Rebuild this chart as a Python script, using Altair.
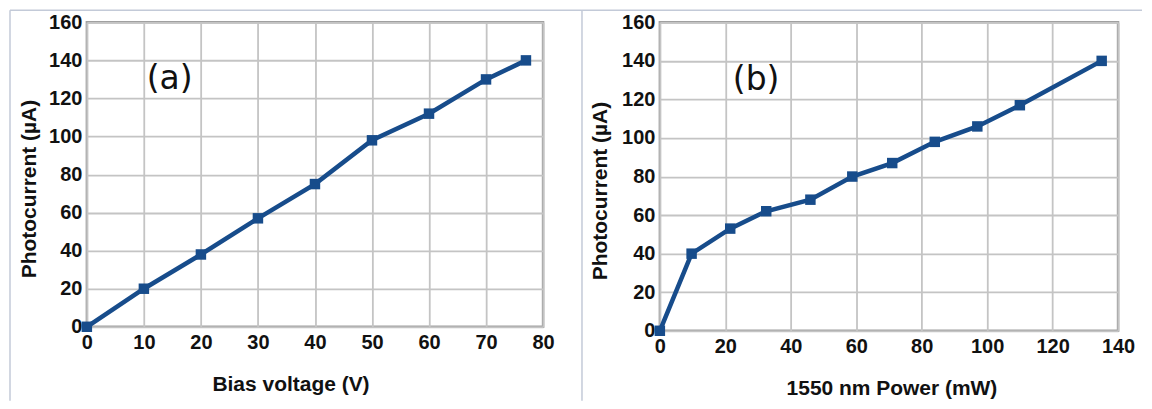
import altair as alt
import pandas as pd

# Panel (a): photocurrent vs bias voltage
volt_x = [0, 10, 20, 30, 40, 50, 60, 70, 77]
volt_y = [0, 20, 38, 57, 75, 98, 112, 130, 140]
# Panel (b): photocurrent vs 1550 nm power
pow_x = [0, 9.7, 21.5, 32.5, 46, 58.8, 71, 84, 97, 110, 135]
pow_y = [0, 40, 53, 62, 68, 80, 87, 98, 106, 117, 140]

y_ticks = [0, 20, 40, 60, 80, 100, 120, 140, 160]
a_ticks = [0, 10, 20, 30, 40, 50, 60, 70, 80]
b_ticks = [0, 20, 40, 60, 80, 100, 120, 140]

LINE = "#174c8b"
FONT = "Liberation Sans"
FRAME = "#c3cad8"

df_a = pd.DataFrame({"x": volt_x, "y": volt_y})
df_b = pd.DataFrame({"x": pow_x, "y": pow_y})


def panel(df, xmax, xticks, xtitle, label, label_x, w, h, xtitle_x, ytitle_x,
          left_rule, right_end):
    x = alt.X("x:Q", scale=alt.Scale(domain=[0, xmax], nice=False),
              axis=alt.Axis(values=xticks, title=xtitle, labelPadding=6,
                            format="d", labelOverlap=False, labelFlush=False,
                            titleX=xtitle_x, titleY=58, titleBaseline="middle",
                            titleAlign="center"))
    y = alt.Y("y:Q", scale=alt.Scale(domain=[0, 160], nice=False),
              axis=alt.Axis(values=y_ticks, title="Photocurrent (µA)",
                            labelPadding=5, format="d", labelOverlap=False,
                            labelFlush=False,
                            titleX=ytitle_x, titleY=h / 2 + 14,
                            titleBaseline="middle", titleAlign="center"))
    base = alt.Chart(df)
    line = base.mark_line(color=LINE, strokeWidth=4.5).encode(x=x, y=y)
    pts = base.mark_point(shape="square", filled=True, opacity=1, color=LINE,
                          size=110).encode(x=x, y=y)
    lab = alt.Chart(pd.DataFrame({"x": [label_x], "y": [130], "t": [label]})).mark_text(
        font="DejaVu Sans", fontSize=33, fontWeight="normal", align="left",
        baseline="middle", color="#111111").encode(x=x, y=y, text="t:N")
    frame_df = pd.DataFrame({"k": [0]})
    vrule = alt.Chart(frame_df).mark_rule(color=FRAME, strokeWidth=1.5).encode(
        x=alt.value(left_rule), y=alt.value(-12), y2=alt.value(379))
    hrule = alt.Chart(frame_df).mark_rule(color=FRAME, strokeWidth=1.5).encode(
        x=alt.value(left_rule), x2=alt.value(right_end), y=alt.value(-12))
    return alt.layer(vrule, hrule, line, pts, lab).properties(width=w, height=h)


pa = panel(df_a, 80, a_ticks, "Bias voltage (V)", "(a)", 10.5, 457, 305,
           204, -57, -77, 496)
pb = panel(df_b, 140, b_ticks, "1550 nm Power (mW)", "(b)", 22.3, 459, 309,
           232, -59, -78, 483)

chart = alt.hconcat(pa, pb, spacing=117, bounds="flush").properties(
    padding={"left": 0, "top": 0, "right": 0, "bottom": 0},
    background="white"
).configure_view(
    stroke="#a0a0a0", strokeWidth=2.5
).configure_axis(
    grid=True, gridColor="#c4c4c4", gridWidth=1.8, domain=False, ticks=False,
    labelFont=FONT, labelFontSize=20, labelFontWeight="bold", labelColor="#111111",
    titleFont=FONT, titleFontSize=21, titleFontWeight="bold", titleColor="#111111"
)

chart.save("out.html", embed_options={"renderer": "svg", "actions": False})
